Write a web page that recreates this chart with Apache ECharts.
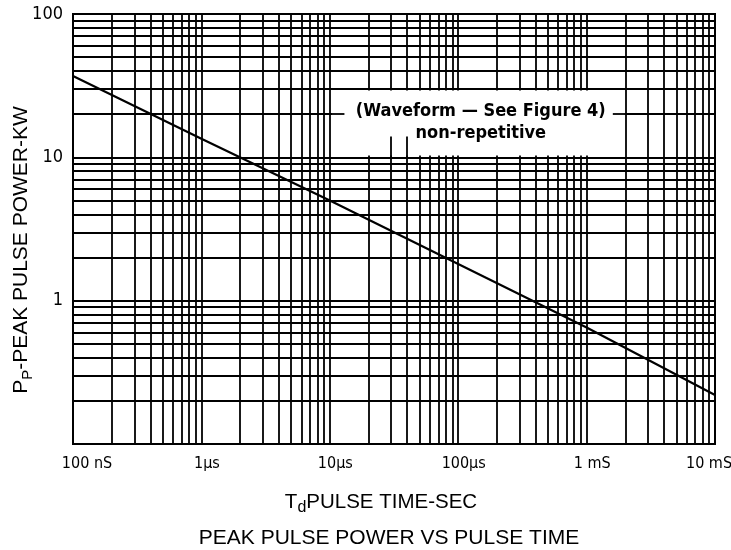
<!DOCTYPE html>
<html>
<head>
<meta charset="utf-8">
<script src="https://cdn.jsdelivr.net/npm/echarts@6/dist/echarts.min.js"></script>
<style>
    html, body { margin: 0; padding: 0; background: #fff; }
    #chart { width: 731px; height: 550px; }
</style>
</head>
<body>
<div id="chart"></div>
<script>
// pulse time (s) and peak pulse power (kW)
const pulseTime = [1e-7, 1e-6, 1e-5, 1e-4, 1e-3, 1e-2];
const peakPower = [37, 13.5, 5, 1.8, 0.65, 0.22];

const xTickLabels = ["100 nS", "1\u00b5s", "10\u00b5s", "100\u00b5s", "1 mS", "10 mS"];
const yTickLabels = ["", "1", "10", "100"];

const xDecades = [-7, -6, -5, -4, -3];
const yDecades = [-1, 0, 1];
const mantissas = [1, 2, 3, 4, 5, 6, 7, 8, 9];

const X_MIN = 1e-7, X_MAX = 1e-2, Y_MIN = 0.1, Y_MAX = 100;

const FONT = "'Liberation Sans Narrow', 'DejaVu Sans Condensed', Arial, sans-serif";
const SANS = "'Liberation Sans', Arial, sans-serif";
const INK = "#000";

// log grid lines at 1..9 x 10^k
const xGrid = [];
xDecades.forEach(k => mantissas.forEach(m => xGrid.push(m * Math.pow(10, k))));
const yGrid = [];
yDecades.forEach(k => mantissas.forEach(m => yGrid.push(m * Math.pow(10, k))));

const gridLines = [
    ...xGrid.map(v => [{ coord: [v, Y_MIN] }, { coord: [v, Y_MAX] }]),
    ...yGrid.map(v => [{ coord: [X_MIN, v] }, { coord: [X_MAX, v] }]),
];

function xLabel(v) {
    const i = Math.round(Math.log10(v)) + 7;
    const text = xTickLabels[i] ?? "";
    if (i === 0) return "{first|" + text + "}";
    if (i === xTickLabels.length - 1) return "{last|" + text + "}";
    return "{mid|" + text + "}";
}

const chart = echarts.init(document.getElementById("chart"));

chart.setOption({
    animation: false,
    backgroundColor: "#fff",
    textStyle: { fontFamily: FONT, color: INK },
    grid: {
        left: 73, right: 16, top: 14, bottom: 106,
        outerBoundsMode: "none",
        containLabel: false,
        show: true, borderColor: INK, borderWidth: 2,
    },
    xAxis: {
        type: "log",
        logBase: 10,
        min: X_MIN,
        max: X_MAX,
        splitNumber: 5,
        axisLine: { show: true, lineStyle: { color: INK, width: 2 } },
        axisTick: { show: false },
        splitLine: { show: false },
        axisLabel: {
            margin: 12,
            fontSize: 16,
            color: INK,
            fontFamily: FONT,
            formatter: xLabel,
            rich: {
                first: { fontSize: 16, fontFamily: FONT, color: INK, padding: [0, 0, 0, 28] },
                mid: { fontSize: 16, fontFamily: FONT, color: INK, padding: [0, 0, 0, 11] },
                last: { fontSize: 16, fontFamily: FONT, color: INK, padding: [0, 12, 0, 0] },
            },
        },
    },
    yAxis: {
        type: "log",
        logBase: 10,
        min: Y_MIN,
        max: Y_MAX,
        splitNumber: 3,
        axisLine: { show: true, lineStyle: { color: INK, width: 2 } },
        axisTick: { show: false },
        splitLine: { show: false },
        axisLabel: {
            margin: 10,
            fontSize: 18,
            color: INK,
            fontFamily: FONT,
            formatter: v => yTickLabels[Math.round(Math.log10(v)) + 1] ?? "",
        },
    },
    series: [
        {
            // grid
            type: "line",
            data: [],
            z: 1,
            silent: true,
            markLine: {
                z: 1,
                silent: true,
                symbol: ["none", "none"],
                label: { show: false },
                lineStyle: { color: INK, width: 1.8, type: "solid" },
                data: gridLines,
            },
        },
        {
            // annotation box blanking the grid
            type: "line",
            data: [],
            z: 3,
            silent: true,
            markArea: {
                z: 3,
                silent: true,
                itemStyle: { color: "#fff", borderWidth: 0, opacity: 1 },
                data: [[{ coord: [1.04e-5, 10.3] }, { coord: [1.96e-3, 29.3] }]],
            },
        },
        {
            type: "line",
            data: pulseTime.map((t, i) => [t, peakPower[i]]),
            z: 5,
            showSymbol: false,
            smooth: false,
            lineStyle: { color: INK, width: 2.2 },
            markLine: {
                z: 5,
                silent: true,
                symbol: ["none", "none"],
                label: { show: false },
                lineStyle: { color: INK, width: 1.8, type: "solid" },
                data: [
                    [{ coord: [1.03e-5, 20] }, { coord: [1.3e-5, 20] }],
                    [{ coord: [1.6e-3, 20] }, { coord: [1.97e-3, 20] }],
                    [{ coord: [3e-5, 10] }, { coord: [3e-5, 14] }],
                    [{ coord: [4e-5, 10] }, { coord: [4e-5, 14] }],
                ],
            },
        },
    ],
});

const note1 = chart.convertToPixel({ xAxisIndex: 0, yAxisIndex: 0 }, [1.5e-4, 21]);
const note2 = chart.convertToPixel({ xAxisIndex: 0, yAxisIndex: 0 }, [1.5e-4, 14.8]);

chart.setOption({
    graphic: [
        {
            type: "text", x: note1[0], y: note1[1], z: 10,
            style: {
                text: "(Waveform \u2014 See Figure 4)",
                fill: INK, font: "bold 18px " + FONT,
                align: "center", verticalAlign: "middle",
            },
        },
        {
            type: "text", x: note2[0], y: note2[1], z: 10,
            style: {
                text: "non-repetitive",
                fill: INK, font: "bold 18px " + FONT,
                align: "center", verticalAlign: "middle",
            },
        },
        {
            type: "text", x: 22, y: 250, rotation: Math.PI / 2,
            style: {
                text: "{a|P}{s|P}{a|-PEAK PULSE POWER-KW}",
                align: "center", verticalAlign: "middle",
                rich: {
                    a: { fontSize: 21, fontFamily: SANS, fill: INK, lineHeight: 22, verticalAlign: "top" },
                    s: { fontSize: 15, fontFamily: SANS, fill: INK, lineHeight: 22, verticalAlign: "top", padding: [9, 0, 0, 0] },
                },
            },
        },
        {
            type: "text", x: 381, y: 503,
            style: {
                text: "{a|T}{s|d}{a|PULSE TIME-SEC}",
                align: "center", verticalAlign: "middle",
                rich: {
                    a: { fontSize: 20.5, fontFamily: SANS, fill: INK, lineHeight: 22, verticalAlign: "top" },
                    s: { fontSize: 16, fontFamily: SANS, fill: INK, lineHeight: 22, verticalAlign: "top", padding: [8, 0, 0, 0] },
                },
            },
        },
        {
            type: "text", x: 389, y: 538,
            style: {
                text: "PEAK PULSE POWER VS PULSE TIME",
                fill: INK, font: "21px " + SANS,
                align: "center", verticalAlign: "middle",
            },
        },
    ],
});
</script>
</body>
</html>
